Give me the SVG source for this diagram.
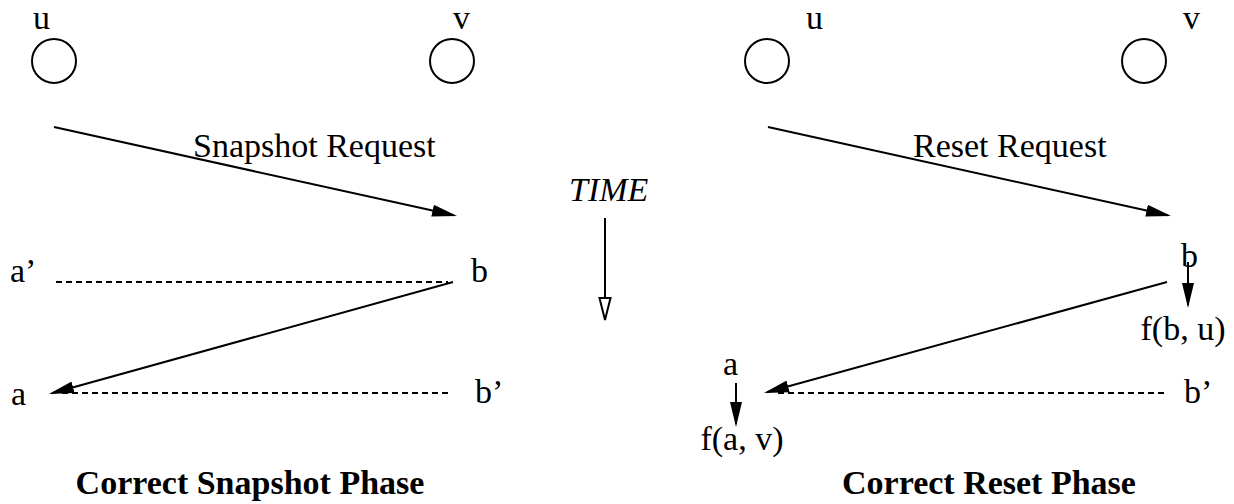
<svg xmlns="http://www.w3.org/2000/svg" width="1234" height="504" viewBox="0 0 1234 504">
<style>
text{font-family:"Liberation Serif","Times New Roman",serif;font-size:34px;fill:#000}
.t{font-weight:bold}
.i{font-style:italic}
.n{fill:none;stroke:#000;stroke-width:2}
.l{stroke:#000;stroke-width:2;fill:none}
.d{stroke:#000;stroke-width:2;stroke-dasharray:6 4;fill:none}
</style>
<defs>
<marker id="ah" viewBox="0 -6 25 12" refX="22" refY="0" markerWidth="25" markerHeight="12" markerUnits="userSpaceOnUse" orient="auto">
<path d="M0,-6 L25,0 L0,6 z" fill="#000"/>
</marker>
<marker id="oh" viewBox="-1 -7 26 14" refX="0" refY="0" markerWidth="26" markerHeight="14" markerUnits="userSpaceOnUse" orient="auto">
<path d="M0,-5.5 L22,0 L0,5.5 z" fill="#fff" stroke="#000" stroke-width="2"/>
</marker>
</defs>
<g id="left-u"><circle class="n" cx="54" cy="61" r="22"/><text x="33" y="29">u</text></g>
<g id="left-v"><circle class="n" cx="452" cy="61" r="22"/><text x="453" y="29">v</text></g>
<g id="left-a1"><text x="10" y="282">a’</text></g>
<g id="left-b"><text x="471" y="282">b</text></g>
<g id="left-a"><text x="11" y="405">a</text></g>
<g id="left-b1"><text x="475" y="403">b’</text></g>
<g id="right-u"><circle class="n" cx="767" cy="61" r="22"/><text x="806" y="29">u</text></g>
<g id="right-v"><circle class="n" cx="1144" cy="61" r="22"/><text x="1183" y="29">v</text></g>
<g id="right-b"><text x="1181" y="267">b</text></g>
<g id="right-fbu"><text x="1183" y="340" text-anchor="middle">f(b, u)</text></g>
<g id="right-a"><text x="723" y="375">a</text></g>
<g id="right-fav"><text x="742" y="450" text-anchor="middle">f(a, v)</text></g>
<g id="right-b1"><text x="1184" y="403">b’</text></g>
<g id="time"><text class="i" x="569" y="201">TIME</text></g>
<g id="labels">
<text x="193" y="157">Snapshot Request</text>
<text x="913" y="157">Reset Request</text>
<text class="t" x="250" y="494" text-anchor="middle">Correct Snapshot Phase</text>
<text class="t" x="989" y="494" text-anchor="middle">Correct Reset Phase</text>
</g>
<g id="connectors">
<line class="l" x1="54" y1="127" x2="454.07" y2="215.35" marker-end="url(#ah)"/>
<line class="d" x1="56" y1="282" x2="448" y2="282"/>
<line class="l" x1="453" y1="282" x2="51.89" y2="393.2" marker-end="url(#ah)"/>
<line class="d" x1="62" y1="393" x2="448" y2="393"/>
<line class="l" x1="605" y1="218" x2="605" y2="298" marker-end="url(#oh)"/>
<line class="l" x1="768" y1="127" x2="1168.07" y2="215.35" marker-end="url(#ah)"/>
<line class="l" x1="1167" y1="282" x2="766.89" y2="392.2" marker-end="url(#ah)"/>
<line class="d" x1="778" y1="393" x2="1164" y2="393"/>
<line class="l" x1="1188" y1="262" x2="1188" y2="305" marker-end="url(#ah)"/>
<line class="l" x1="736" y1="383" x2="736" y2="424" marker-end="url(#ah)"/>
</g>
</svg>
